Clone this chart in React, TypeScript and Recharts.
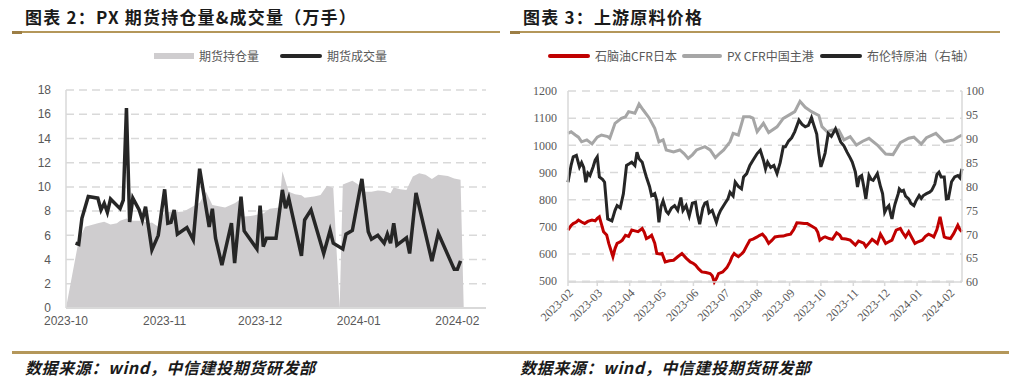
import React from "react";
import { ComposedChart, Area, Line, XAxis, YAxis, CartesianGrid } from "recharts";

// 图表2：x 为距 2023-10-01 的天数
const oiMonthTicks = [0, 31, 61, 92, 123];
const oiMonthLabels = ["2023-10", "2023-11", "2023-12", "2024-01", "2024-02"];

const oiDays = [0, 4, 6, 8, 10, 12, 14, 16, 17, 19, 21, 24, 26, 27, 29, 31, 34, 37, 40, 42, 44, 46, 48, 50, 53, 55, 56, 58, 62, 64, 67, 68, 70, 72, 74, 75, 78, 80, 82, 84, 86, 87, 90, 92, 94, 96, 98, 100, 102, 103, 105, 107, 109, 111, 113, 115, 117, 120, 122, 124, 125];
const oiValues = [0, 5.6, 6.7, 6.85, 7.0, 7.13, 6.9, 7.0, 7.2, 7.4, 7.2, 7.2, 7.0, 7.05, 6.7, 7.96, 7.9, 7.96, 8.4, 8.7, 9.6, 8.5, 8.4, 8.3, 8.65, 9.0, 7.55, 7.6, 7.8, 8.2, 8.3, 11.3, 9.6, 9.4, 9.3, 9.1, 9.2, 9.33, 10.1, 9.9, 0, 10.2, 10.5, 10.17, 9.6, 9.6, 9.7, 9.67, 9.48, 9.94, 9.8, 9.75, 10.85, 11.13, 11.0, 10.66, 11.0, 10.9, 10.7, 10.58, 0];

const volDays = [3, 4, 5, 7, 10, 11, 12, 13, 14, 17, 18, 19, 20, 21, 23, 24, 25, 27, 29, 31, 32, 33, 34, 35, 38, 40, 42, 45, 46, 47, 49, 52, 53, 55, 56, 60, 61, 62, 63, 66, 68, 69, 70, 74, 75, 77, 81, 83, 84, 87, 88, 90, 93, 95, 96, 98, 100, 101, 102, 103, 104, 107, 108, 110, 115, 117, 122, 123, 124];
const volValues = [5.35, 5.26, 7.4, 9.2, 9.07, 8.1, 8.65, 7.9, 9.0, 8.2, 8.9, 16.5, 7.1, 9.07, 8.1, 7.27, 8.37, 4.8, 6.0, 9.8, 7.0, 7.08, 8.1, 6.09, 6.64, 5.62, 11.5, 6.7, 8.2, 5.76, 3.55, 7.0, 3.7, 9.2, 6.36, 4.88, 8.45, 5.07, 5.76, 5.76, 9.75, 8.24, 9.07, 4.3, 7.27, 8.1, 4.5, 6.4, 5.35, 4.88, 6.09, 6.4, 10.66, 6.3, 5.68, 6.0, 5.35, 6.1, 5.35, 7.0, 5.2, 5.8, 4.5, 9.5, 3.88, 6.17, 3.2, 3.2, 3.9];

// 图表3：x 为距 2023-02-01 的天数
const feedMonthTicks = [0, 28, 59, 89, 120, 150, 181, 212, 242, 273, 303, 334, 365];
const feedMonthLabels = ["2023-02", "2023-03", "2023-04", "2023-05", "2023-06", "2023-07", "2023-08", "2023-09", "2023-10", "2023-11", "2023-12", "2024-01", "2024-02"];

const pxDays = [0, 3, 7, 10, 13, 18, 23, 28, 32, 38, 40, 45, 51, 55, 58, 64, 68, 72, 78, 83, 87, 91, 94, 101, 107, 111, 115, 119, 123, 131, 136, 141, 145, 149, 155, 158, 163, 168, 174, 177, 181, 187, 192, 200, 206, 213, 217, 222, 227, 233, 240, 243, 248, 253, 259, 264, 270, 276, 282, 288, 296, 304, 311, 318, 326, 331, 338, 343, 352, 360, 369, 373, 377];
const pxValues = [1044, 1050, 1038, 1030, 1013, 1020, 1005, 1030, 1038, 1032, 1026, 1081, 1099, 1105, 1124, 1118, 1152, 1130, 1099, 1063, 1013, 1020, 983, 976, 983, 970, 952, 965, 983, 995, 983, 955, 970, 983, 1013, 1044, 1038, 1105, 1105, 1100, 1050, 1081, 1047, 1068, 1099, 1115, 1124, 1162, 1140, 1124, 1110, 1069, 1050, 1056, 1056, 1020, 1032, 1001, 1015, 1026, 1001, 968, 966, 1010, 1026, 1030, 1005, 1028, 1044, 1013, 1020, 1030, 1038];

const brentDays = [0, 3, 5, 8, 11, 13, 15, 17, 19, 21, 24, 26, 28, 30, 33, 35, 38, 42, 45, 47, 50, 53, 56, 59, 61, 64, 66, 68, 71, 73, 75, 78, 80, 83, 85, 87, 89, 91, 94, 96, 99, 102, 105, 108, 110, 113, 116, 119, 122, 124, 126, 129, 131, 133, 135, 138, 142, 144, 146, 150, 153, 155, 158, 160, 163, 166, 168, 171, 174, 177, 181, 184, 187, 189, 191, 194, 197, 200, 203, 206, 208, 211, 214, 217, 221, 224, 227, 230, 233, 235, 238, 240, 242, 244, 246, 249, 252, 256, 258, 261, 264, 267, 270, 272, 275, 277, 279, 281, 283, 285, 288, 290, 292, 294, 296, 299, 301, 303, 305, 307, 309, 310, 312, 313, 316, 317, 319, 321, 323, 326, 328, 331, 333, 336, 338, 340, 343, 346, 348, 351, 353, 355, 357, 360, 362, 364, 367, 370, 373, 375, 377];
const brentValues = [80.9, 84.5, 86.2, 86.5, 84.1, 85.0, 84.0, 80.9, 82.8, 82.3, 84.1, 85.5, 86.2, 82.0, 81.5, 80.9, 73.2, 72.8, 75.0, 76.0, 75.5, 78.5, 84.4, 84.8, 85.1, 84.4, 87.2, 85.8, 85.1, 83.5, 82.0, 80.0, 78.1, 78.5, 77.0, 72.5, 75.8, 77.0, 74.8, 74.3, 75.5, 76.0, 75.0, 77.7, 75.0, 76.0, 73.8, 76.5, 76.7, 74.0, 72.1, 75.5, 76.5, 76.7, 74.5, 75.0, 72.5, 74.0, 75.0, 76.4, 77.4, 78.8, 78.0, 80.9, 80.0, 79.5, 82.0, 82.7, 84.4, 85.5, 86.9, 87.6, 85.5, 83.7, 85.1, 84.0, 84.4, 82.7, 85.0, 88.3, 88.3, 89.5, 90.2, 91.5, 93.9, 93.0, 92.5, 92.8, 94.4, 93.0, 91.0, 87.0, 84.1, 85.5, 87.0, 91.1, 90.5, 92.1, 91.0, 89.3, 88.5, 87.2, 86.0, 85.1, 83.0, 79.9, 82.0, 82.3, 80.0, 77.4, 82.3, 81.5, 81.3, 82.0, 82.7, 80.0, 78.5, 74.6, 75.5, 76.0, 74.0, 73.2, 75.5, 76.4, 78.5, 79.5, 79.0, 79.2, 78.0, 77.4, 76.5, 76.0, 77.0, 78.1, 77.5, 78.1, 78.5, 78.8, 79.2, 80.5, 82.5, 83.0, 82.0, 82.0, 77.4, 77.5, 81.0, 82.0, 82.3, 81.8, 83.7];

const naphthaDays = [0, 3, 5, 8, 10, 13, 16, 19, 23, 26, 28, 30, 32, 34, 37, 39, 41, 43, 45, 47, 50, 52, 55, 58, 61, 64, 67, 71, 73, 75, 78, 80, 83, 85, 88, 90, 93, 97, 101, 105, 109, 113, 117, 120, 122, 125, 128, 132, 136, 138, 140, 142, 144, 148, 152, 155, 157, 159, 161, 163, 166, 168, 171, 174, 177, 181, 183, 186, 189, 192, 195, 198, 202, 206, 209, 213, 216, 219, 222, 226, 229, 233, 237, 239, 241, 244, 246, 250, 253, 257, 260, 262, 266, 270, 273, 275, 278, 280, 283, 285, 288, 291, 294, 296, 299, 301, 304, 307, 310, 312, 314, 318, 320, 323, 326, 329, 332, 335, 339, 342, 345, 348, 350, 353, 356, 358, 360, 362, 366, 369, 373, 375, 377];
const naphthaValues = [688, 705, 712, 718, 725, 718, 712, 720, 725, 722, 731, 737, 710, 682, 670, 639, 615, 590, 620, 639, 645, 651, 669, 665, 688, 685, 682, 694, 680, 657, 663, 669, 640, 602, 600, 602, 571, 575, 577, 590, 602, 585, 571, 565, 559, 545, 534, 532, 528, 520, 497, 510, 528, 534, 550, 571, 590, 602, 595, 590, 600, 608, 630, 651, 655, 663, 668, 673, 660, 639, 650, 663, 665, 666, 670, 673, 690, 715, 714, 712, 712, 703, 694, 680, 651, 660, 663, 657, 654, 678, 670, 657, 655, 651, 640, 633, 648, 645, 640, 627, 640, 654, 645, 639, 673, 660, 639, 645, 651, 670, 688, 694, 680, 663, 682, 660, 639, 645, 651, 665, 673, 668, 663, 690, 737, 700, 663, 660, 657, 675, 706, 690, 682];

type Row = { d: number; [key: string]: number | undefined };

function mergeByDay(series: [string, number[], number[]][]): Row[] {
  const map = new Map<number, Row>();
  series.forEach(([key, days, values]) => {
    days.forEach((d, i) => {
      const row = map.get(d) ?? { d };
      row[key] = values[i];
      map.set(d, row);
    });
  });
  return [...map.values()].sort((a, b) => a.d - b.d);
}

const futuresData = mergeByDay([
  ["oi", oiDays, oiValues],
  ["vol", volDays, volValues],
]);

const feedData = mergeByDay([
  ["px", pxDays, pxValues],
  ["brent", brentDays, brentValues],
  ["naphtha", naphthaDays, naphthaValues],
]);

const GOLD = "#B4975A";
const AXIS = "#D9D9D9";
const TEXT = "#595959";
const CJK = '"Noto Sans CJK SC", sans-serif';
const SANS = '"Liberation Sans", Arial, sans-serif';
const SERIF = '"Liberation Serif", "Times New Roman", serif';

const SlantTick = (props: any) => {
  const { x, y, payload } = props;
  const label = feedMonthLabels[feedMonthTicks.indexOf(payload.value)];
  const tx = x + 3;
  return (
    <text
      x={tx}
      y={y}
      transform={`rotate(-45, ${tx}, ${y})`}
      textAnchor="end"
      dominantBaseline="central"
      fontSize={12}
      fontFamily={SERIF}
      fill={TEXT}
    >
      {label}
    </text>
  );
};

const Header = ({ left, width, text }: { left: number; width: number; text: string }) => (
  <>
    <div
      style={{
        position: "absolute",
        left: left + 13,
        top: 5,
        fontFamily: CJK,
        fontSize: 17,
        fontWeight: 700,
        lineHeight: "24px",
        letterSpacing: 1.2,
        color: "#1a1a1a",
        whiteSpace: "nowrap",
      }}
    >
      {text}
    </div>
    <div style={{ position: "absolute", left, top: 31, width, height: 2, background: GOLD }} />
    <div style={{ position: "absolute", left, top: 31, width: 10, height: 3, background: "#9C7E45" }} />
  </>
);

const LegendItem = ({ x, w, swatch, color, label }: { x: number; w: number; swatch: "bar" | "line"; color: string; label: string }) => (
  <div style={{ position: "absolute", left: x, top: 48, height: 16, display: "flex", alignItems: "center", whiteSpace: "nowrap" }}>
    <div style={{ width: w, height: swatch === "bar" ? 6 : 3.5, background: color, borderRadius: swatch === "line" ? 2 : 0 }} />
    <span style={{ marginLeft: 5, fontFamily: CJK, fontSize: 12, color: TEXT, lineHeight: "16px" }}>{label}</span>
  </div>
);

const Footer = ({ left }: { left: number }) => (
  <div
    style={{
      position: "absolute",
      left,
      top: 356,
      fontFamily: CJK,
      fontSize: 16,
      fontWeight: 700,
      fontStyle: "italic",
      letterSpacing: 0.6,
      color: "#1a1a1a",
      whiteSpace: "nowrap",
      lineHeight: "22px",
    }}
  >
    数据来源：wind，中信建投期货研发部
  </div>
);

export default function App() {
  return (
    <div style={{ position: "relative", width: 1009, height: 388, background: "#fff", overflow: "hidden" }}>
      <style>{`body{margin:0}`}</style>

      <Header left={12} width={488} text="图表 2：PX 期货持仓量&成交量（万手）" />
      <Header left={510} width={490} text="图表 3：上游原料价格" />

      <LegendItem x={154} w={40} swatch="bar" color="#CFCDCF" label="期货持仓量" />
      <LegendItem x={280} w={42} swatch="line" color="#262626" label="期货成交量" />

      <LegendItem x={548} w={42} swatch="line" color="#C00000" label="石脑油CFR日本" />
      <LegendItem x={682} w={40} swatch="line" color="#A6A6A6" label="PX CFR中国主港" />
      <LegendItem x={820} w={42} swatch="line" color="#262626" label="布伦特原油（右轴）" />

      <div style={{ position: "absolute", left: 0, top: 80 }}>
        <ComposedChart width={500} height={260} data={futuresData} margin={{ top: 10, right: 14, bottom: 2, left: 0 }}>
          <CartesianGrid vertical={false} stroke={AXIS} strokeWidth={1.5} strokeDasharray="8 5" />
          <XAxis
            dataKey="d"
            type="number"
            domain={[0, 132]}
            ticks={oiMonthTicks}
            interval={0}
            tickFormatter={(v: number) => oiMonthLabels[oiMonthTicks.indexOf(v)]}
            height={30}
            stroke={AXIS}
            strokeWidth={2}
            tickLine={false}
            tickSize={0}
            tickMargin={8}
            tick={{ fontSize: 12, fill: TEXT, fontFamily: SANS }}
          />
          <YAxis
            domain={[0, 18]}
            ticks={[0, 2, 4, 6, 8, 10, 12, 14, 16, 18]}
            width={66}
            stroke={AXIS}
            strokeWidth={1.5}
            tickLine={false}
            tickSize={0}
            tickMargin={15}
            tick={{ fontSize: 12, fill: TEXT, fontFamily: SANS }}
          />
          <Area type="linear" dataKey="oi" fill="#CFCDCF" fillOpacity={1} stroke="none" connectNulls isAnimationActive={false} />
          <Line type="linear" dataKey="vol" stroke="#262626" strokeWidth={3.5} dot={false} connectNulls isAnimationActive={false} />
        </ComposedChart>
      </div>

      <div style={{ position: "absolute", left: 500, top: 80 }}>
        <ComposedChart width={509} height={262} data={feedData} margin={{ top: 11, right: 7, bottom: 0, left: 0 }}>
          <CartesianGrid vertical={false} yAxisId="left" stroke={AXIS} strokeWidth={1.5} strokeDasharray="8 6" />
          <XAxis
            dataKey="d"
            type="number"
            domain={[0, 377]}
            ticks={feedMonthTicks}
            interval={0}
            height={60}
            stroke={AXIS}
            strokeWidth={1.5}
            tickSize={4}
            tickMargin={5}
            tick={<SlantTick />}
          />
          <YAxis
            yAxisId="left"
            domain={[500, 1200]}
            ticks={[500, 600, 700, 800, 900, 1000, 1100, 1200]}
            width={68}
            stroke={AXIS}
            strokeWidth={1.5}
            tickLine={false}
            tickSize={0}
            tickMargin={11}
            tick={{ fontSize: 12, fill: TEXT, fontFamily: SERIF }}
          />
          <YAxis
            yAxisId="right"
            orientation="right"
            domain={[60, 100]}
            ticks={[60, 65, 70, 75, 80, 85, 90, 95, 100]}
            width={40}
            stroke={AXIS}
            strokeWidth={1.5}
            tickLine={false}
            tickSize={0}
            tickMargin={4}
            tick={{ fontSize: 12, fill: TEXT, fontFamily: SERIF }}
          />
          <Line yAxisId="left" type="linear" dataKey="px" stroke="#A6A6A6" strokeWidth={3} dot={false} connectNulls isAnimationActive={false} />
          <Line yAxisId="right" type="linear" dataKey="brent" stroke="#262626" strokeWidth={3} dot={false} connectNulls isAnimationActive={false} />
          <Line yAxisId="left" type="linear" dataKey="naphtha" stroke="#C00000" strokeWidth={3} dot={false} connectNulls isAnimationActive={false} />
        </ComposedChart>
      </div>

      <div style={{ position: "absolute", left: 12, top: 351, width: 997, height: 3, background: GOLD }} />
      <Footer left={25} />
      <Footer left={520} />
    </div>
  );
}
